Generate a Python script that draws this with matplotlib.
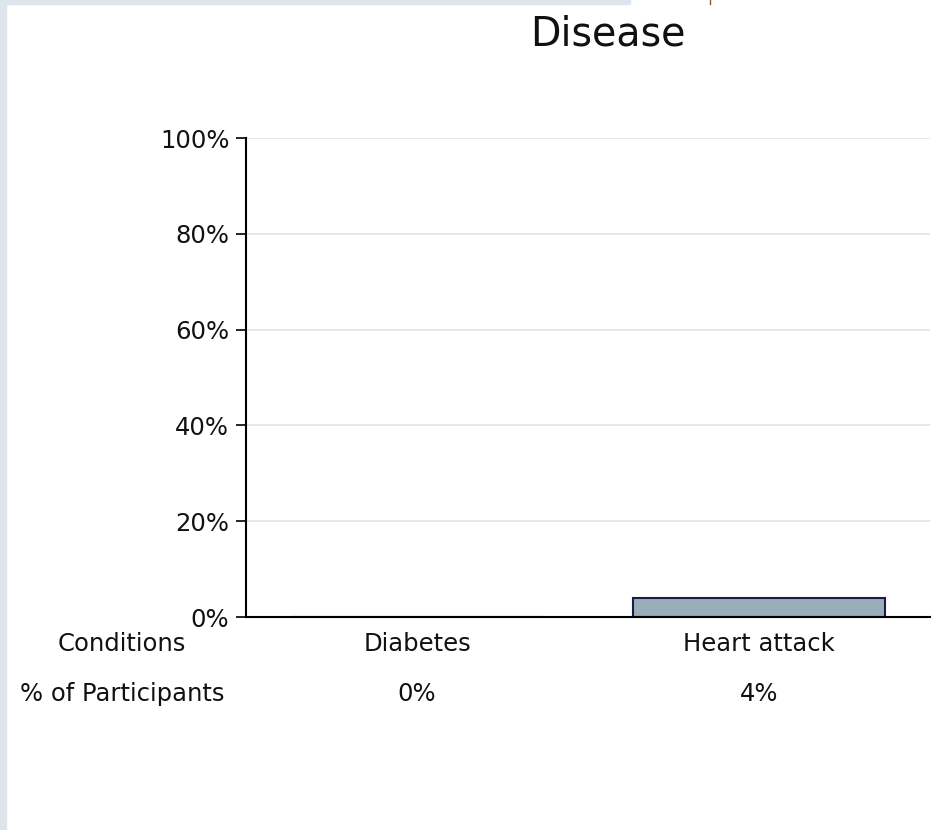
import matplotlib.pyplot as plt
from matplotlib.patches import Rectangle
from matplotlib.lines import Line2D

# data
categories = ["Diabetes", "Heart attack"]
values = [0, 4]
yticks = [0, 20, 40, 60, 80, 100]
row_names = ["Conditions", "% of Participants"]

plt.rcParams['font.family'] = ['DejaVu Sans']

fig = plt.figure(figsize=(9.38, 8.3), dpi=100)
ax = fig.add_axes([0.2623, 0.2566, 0.7292, 0.5771])

x = range(len(categories))
ax.bar(x, values, width=0.735, color='#9aaeba', edgecolor='#1c1c4c', linewidth=1.5, zorder=2)

ax.set_xlim(-0.5, len(categories) - 0.5)
ax.set_ylim(0, 100)
ax.set_yticks(yticks)
ax.set_yticklabels([f"{v}%" for v in yticks], fontsize=17.5, color='#111111')
ax.set_xticks([])
ax.grid(axis='y', color='#e3e3e3', linewidth=1.2, zorder=0)
ax.set_axisbelow(True)
ax.tick_params(axis='y', length=7, width=1.2, pad=5)

for s in ['top', 'right']:
    ax.spines[s].set_visible(False)
ax.spines['left'].set_linewidth(1.5)
ax.spines['bottom'].set_linewidth(1.5)

# table under the chart
trans = ax.get_xaxis_transform()
for i, (cat, v) in enumerate(zip(categories, values)):
    ax.text(i, -0.056, cat, transform=trans, ha='center', va='center', fontsize=17.5, color='#111111')
    ax.text(i, -0.161, f"{v}%", transform=trans, ha='center', va='center', fontsize=17.5, color='#111111')
fig.text(0.130, (830 - 644) / 830, row_names[0], ha='center', va='center', fontsize=17.5, color='#111111')
fig.text(0.130, (830 - 694) / 830, row_names[1], ha='center', va='center', fontsize=17.5, color='#111111')

fig.text(0.648, (830 - 35) / 830, "Disease", ha='center', va='center', fontsize=28.5, color='#111111')

# page border strips
fig.patches.append(Rectangle((0, 0), 6 / 938, 1, transform=fig.transFigure, color='#dfe5ec', zorder=-1))
fig.patches.append(Rectangle((0, 1 - 4 / 830), 630 / 938, 4 / 830, transform=fig.transFigure, color='#dfe5ec', zorder=-1))
fig.lines.append(Line2D([710 / 938, 710 / 938], [1, 1 - 4 / 830], transform=fig.transFigure, color='#a0522d', linewidth=1))

fig.savefig("out.png", dpi=100)
